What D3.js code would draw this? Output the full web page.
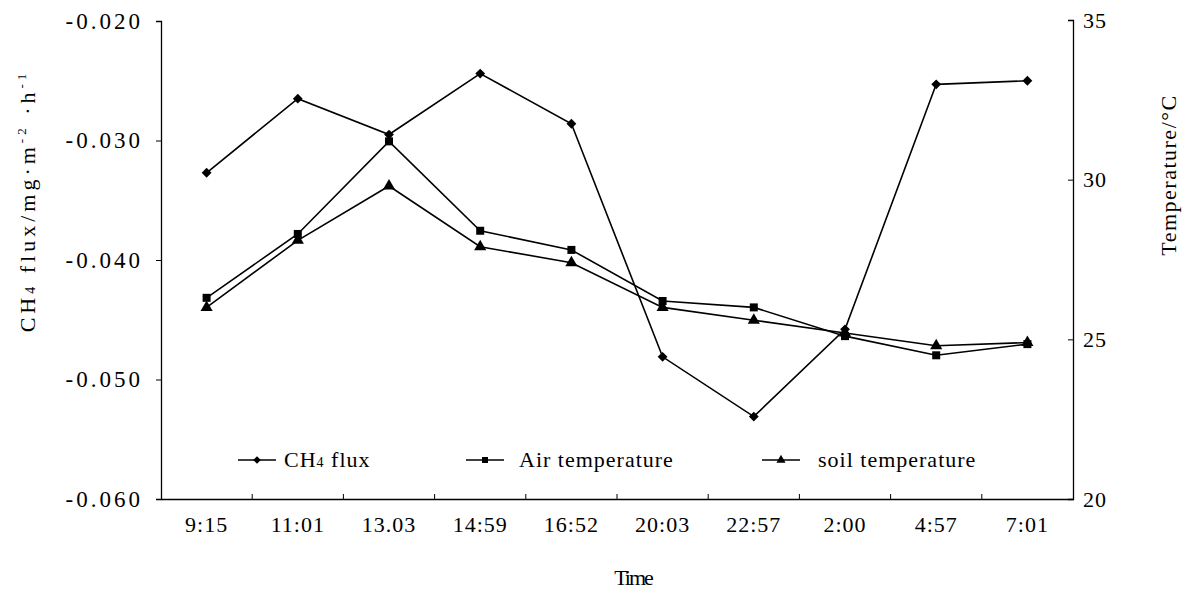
<!DOCTYPE html>
<html>
<head>
<meta charset="utf-8">
<script src="https://cdn.jsdelivr.net/npm/d3@7"></script>
<style>
    body { margin: 0; background: #fff; }
    svg { display: block; }
    text { font-family: "Liberation Serif", "Times New Roman", serif; fill: #000; }
</style>
</head>
<body>
<div id="chart-container"></div>
<script>
// Sampling times (x categories).
const times = ["9:15", "11:01", "13.03", "14:59", "16:52", "20:03", "22:57", "2:00", "4:57", "7:01"];

// CH4 flux, mg·m-2·h-1 (left axis).
const ch4Flux = [-0.0327, -0.0265, -0.0295, -0.0244, -0.0286, -0.0481, -0.0531, -0.0458, -0.0253, -0.0250];

// Temperatures, °C (right axis).
const airTemp = [26.3, 28.3, 31.2, 28.4, 27.8, 26.2, 26.0, 25.1, 24.5, 24.85];
const soilTemp = [26.0, 28.1, 29.8, 27.9, 27.4, 26.0, 25.6, 25.2, 24.8, 24.9];

const fluxTicks = [-0.060, -0.050, -0.040, -0.030, -0.020];
const tempTicks = [20, 25, 30, 35];

const chartWidth = 1183;
const chartHeight = 591;
const plotLeft = 161;
const plotRight = 1073;
const plotTop = 21;
const plotBottom = 499;

const x = d3.scaleBand()
    .domain(times)
    .range([plotLeft, plotRight])
    .paddingInner(0)
    .paddingOuter(0);

const yFlux = d3.scaleLinear()
    .domain([-0.060, -0.020])
    .range([plotBottom, plotTop]);

const yTemp = d3.scaleLinear()
    .domain([20, 35])
    .range([plotBottom, plotTop - 1]);

const cx = t => x(t) + x.bandwidth() / 2;

const chart = d3.select("#chart-container").append("svg")
    .attr("width", chartWidth)
    .attr("height", chartHeight);

// left axis (plain hyphen as in the original, not the unicode minus)
const leftAxis = chart.append("g")
    .attr("transform", `translate(${plotLeft}, 0)`)
    .call(d3.axisLeft(yFlux).tickValues(fluxTicks).tickFormat(d => d.toFixed(3)).tickSize(5).tickPadding(13));

// right axis, ticks pointing into the plot
const rightAxis = chart.append("g")
    .attr("transform", `translate(${plotRight}, 0)`)
    .call(d3.axisRight(yTemp).tickValues(tempTicks).tickSize(-5).tickPadding(10));

// bottom axis: labels under the points, marks between categories
const bottomAxis = chart.append("g")
    .attr("transform", `translate(0, ${plotBottom})`)
    .call(d3.axisBottom(x).tickSize(0).tickPadding(17).tickSizeOuter(0));

bottomAxis.selectAll(".boundary")
    .data(times.slice(1))
    .enter()
    .append("line")
    .attr("class", "boundary")
    .attr("x1", d => x(d))
    .attr("x2", d => x(d))
    .attr("y1", 0)
    .attr("y2", -5)
    .attr("stroke", "#000");

[leftAxis, rightAxis, bottomAxis].forEach(g => {
    g.select(".domain").attr("stroke", "#000").attr("stroke-width", 1.3);
    g.selectAll(".tick line").attr("stroke", "#000");
    g.selectAll(".tick text")
        .style("font-size", "22px")
        .style("letter-spacing", "1px");
});

leftAxis.selectAll(".tick text")
    .style("font-size", "23px")
    .style("letter-spacing", "3px");

// axis titles
chart.append("text")
    .attr("transform", "translate(35, 201) rotate(-90)")
    .attr("text-anchor", "middle")
    .style("font-size", "22px")
    .style("letter-spacing", "4px")
    .call(t => {
        t.append("tspan").text("CH");
        t.append("tspan").style("font-size", "14px").text("4");
        t.append("tspan").text(" flux/mg·m");
        t.append("tspan").attr("dy", -9).style("font-size", "13px").text("-2");
        t.append("tspan").attr("dy", 9).text(" ·h");
        t.append("tspan").attr("dy", -9).style("font-size", "13px").text("-1");
    });

chart.append("text")
    .attr("transform", "translate(1176, 175) rotate(-90)")
    .attr("text-anchor", "middle")
    .style("font-size", "22px")
    .style("letter-spacing", "1.5px")
    .text("Temperature/°C");

chart.append("text")
    .attr("x", 633)
    .attr("y", 585)
    .attr("text-anchor", "middle")
    .style("font-size", "22px")
    .style("letter-spacing", "-2px")
    .text("Time");

// series
const series = [
    {name: "CH4 flux", values: ch4Flux, y: yFlux, symbol: d3.symbolSquare, size: 48, rotate: 45},
    {name: "Air temperature", values: airTemp, y: yTemp, symbol: d3.symbolSquare, size: 64, rotate: 0},
    {name: "soil temperature", values: soilTemp, y: yTemp, symbol: d3.symbolTriangle, size: 64, rotate: 0}
];

const line = (s) => d3.line()
    .x((d, i) => cx(times[i]))
    .y(d => s.y(d));

series.forEach(s => {
    chart.append("path")
        .datum(s.values)
        .attr("fill", "none")
        .attr("stroke", "#000")
        .attr("stroke-width", 1.6)
        .attr("d", line(s));

    chart.selectAll(null)
        .data(s.values)
        .enter()
        .append("path")
        .attr("transform", (d, i) => `translate(${cx(times[i])}, ${s.y(d)}) rotate(${s.rotate})`)
        .attr("d", d3.symbol().type(s.symbol).size(s.size))
        .attr("fill", "#000");
});

// legend
const legendY = 460;
const legendItems = [
    {x1: 238, x2: 276, tx: 284, size: 30},
    {x1: 466, x2: 504, tx: 519, size: 36},
    {x1: 762, x2: 800, tx: 818, size: 36}
];

legendItems.forEach((item, k) => {
    const s = series[k];
    const g = chart.append("g").attr("class", "legend-item");
    g.append("line")
        .attr("x1", item.x1)
        .attr("x2", item.x2)
        .attr("y1", legendY)
        .attr("y2", legendY)
        .attr("stroke", "#000")
        .attr("stroke-width", 1.6);
    g.append("path")
        .attr("transform", `translate(${(item.x1 + item.x2) / 2}, ${legendY}) rotate(${s.rotate})`)
        .attr("d", d3.symbol().type(s.symbol).size(item.size))
        .attr("fill", "#000");
    const t = g.append("text")
        .attr("x", item.tx)
        .attr("y", legendY + 7)
        .style("font-size", "22px")
        .style("letter-spacing", "1px");
    if (k === 0) {
        t.append("tspan").text("CH");
        t.append("tspan").style("font-size", "14px").text("4");
        t.append("tspan").text(" flux");
    } else {
        t.text(s.name);
    }
});
</script>
</body>
</html>
